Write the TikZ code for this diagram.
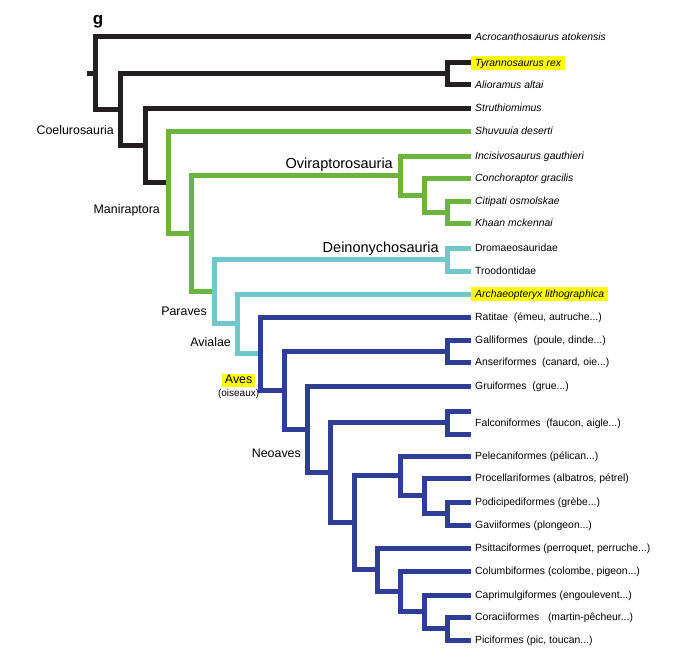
\documentclass[tikz,border=0pt]{standalone}
\usepackage{fontspec}
\setmainfont{Liberation Sans}
\usepackage{tikz}
\usetikzlibrary{positioning}

\definecolor{theropod}{RGB}{35,31,32}
\definecolor{maniraptor}{RGB}{108,179,63}
\definecolor{paravian}{RGB}{114,199,202}
\definecolor{avian}{RGB}{46,61,149}
\definecolor{marker}{RGB}{255,255,0}

\tikzstyle{branch} = [line width=5pt, line join=miter]
\tikzstyle{taxon} = [anchor=west, inner xsep=4pt, inner ysep=2.5pt, text height=8pt, text depth=1pt, font=\fontsize{10.4}{12}\selectfont]
\tikzstyle{species} = [taxon, font=\fontsize{10.4}{12}\selectfont\itshape]
\tikzstyle{clade} = [inner sep=0pt, text height=9pt, text depth=2.5pt, font=\fontsize{12.4}{14}\selectfont]
\tikzstyle{bigclade} = [inner sep=0pt, text height=10.5pt, text depth=3pt, font=\fontsize{14.5}{17}\selectfont]
\tikzstyle{highlight} = [fill=marker]

\begin{document}
\begin{tikzpicture}[x=1pt, y=-1pt, node distance=5pt]
    \useasboundingbox (0,0) rectangle (700,650);
    % terminal taxa
    \node (Acro) [species] at (471,37) {Acrocanthosaurus atokensis};
    \node (Tyran) [species, highlight] at (471,63) {Tyrannosaurus rex};
    \node (Alior) [species] at (471,85) {Alioramus altai};
    \node (Struth) [species] at (471,108) {Struthiomimus};
    \node (Shuv) [species] at (471,131) {Shuvuuia deserti};
    \node (Incis) [species] at (471,156) {Incisivosaurus gauthieri};
    \node (Conch) [species] at (471,178) {Conchoraptor gracilis};
    \node (Citip) [species] at (471,201) {Citipati osmolskae};
    \node (Khaan) [species] at (471,223) {Khaan mckennai};
    \node (Dromae) [taxon] at (471,248) {Dromaeosauridae};
    \node (Troodo) [taxon] at (471,271) {Troodontidae};
    \node (Archae) [species, highlight] at (471,294) {Archaeopteryx lithographica};
    \node (Ratit) [taxon] at (471,317) {Ratitae\ \ (émeu, autruche...)};
    \node (Galli) [taxon] at (471,340) {Galliformes\ \ (poule, dinde...)};
    \node (Anser) [taxon] at (471,362) {Anseriformes\ \ (canard, oie...)};
    \node (Grui) [taxon] at (471,386) {Gruiformes\ \ (grue...)};
    \node (Falco) [taxon] at (471,422.5) {Falconiformes\ \ (faucon, aigle...)};
    \coordinate (FalcA) at (471,411);
    \coordinate (FalcB) at (471,434);
    \node (Pelec) [taxon] at (471,456) {Pelecaniformes (pélican...)};
    \node (Procel) [taxon] at (471,478) {Procellariformes\ (albatros, pétrel)};
    \node (Podic) [taxon] at (471,502) {Podicipediformes (grèbe...)};
    \node (Gavi) [taxon] at (471,525) {Gaviiformes (plongeon...)};
    \node (Psitt) [taxon] at (471,548) {Psittaciformes\ (perroquet, perruche...)};
    \node (Columb) [taxon] at (471,571) {Columbiformes (colombe, pigeon...)};
    \node (Caprim) [taxon] at (471,595) {Caprimulgiformes (engoulevent...)};
    \node (Coraci) [taxon] at (471,617) {Coraciiformes\ \ \ (martin-pêcheur...)};
    \node (Pici) [taxon] at (471,640) {Piciformes (pic, toucan...)};
    % internal nodes
    \coordinate (Base) at (87,73.3);
    \coordinate (Root) at (95,73.3);
    \coordinate (Coeluro) at (120,109.6);
    \coordinate (Tyranno) at (447,74);
    \coordinate (Manicore) at (145,145.2);
    \coordinate (Mani) at (168,182.3);
    \coordinate (Pennar) at (191,233.6);
    \coordinate (Ovi) at (400,175.5);
    \coordinate (OviTwo) at (424,195);
    \coordinate (OviThree) at (447,212);
    \coordinate (Paraves) at (214,291.6);
    \coordinate (Deino) at (447,259.5);
    \coordinate (Avialae) at (237,323.8);
    \coordinate (Aves) at (260,353.6);
    \coordinate (Neognath) at (284,390.2);
    \coordinate (Galloans) at (447,351);
    \coordinate (Neoaves) at (307,429.3);
    \coordinate (NeoA) at (330,472.6);
    \coordinate (Falcfork) at (447,422.5);
    \coordinate (NeoB) at (354,522.8);
    \coordinate (Waterbird) at (400,475.9);
    \coordinate (WaterTwo) at (424,495.75);
    \coordinate (Grebes) at (447,513.5);
    \coordinate (Landbird) at (377,569.7);
    \coordinate (LandTwo) at (400,591.4);
    \coordinate (LandThree) at (424,611.75);
    \coordinate (Coracfork) at (447,628.5);
    % branches
    \draw [branch, theropod] (Base) -- (Root);
    \draw [branch, theropod] (Root) |- (Acro.west) (Root) |- (Coeluro);
    \draw [branch, theropod] (Coeluro) |- (Tyranno) (Coeluro) |- (Manicore);
    \draw [branch, theropod] (Tyranno) |- (Tyran.west) (Tyranno) |- (Alior.west);
    \draw [branch, theropod] (Manicore) |- (Struth.west) (Manicore) |- (Mani);
    \draw [branch, maniraptor] (Mani) |- (Shuv.west) (Mani) |- (Pennar);
    \draw [branch, maniraptor] (Pennar) |- (Ovi) (Pennar) |- (Paraves);
    \draw [branch, maniraptor] (Ovi) |- (Incis.west) (Ovi) |- (OviTwo);
    \draw [branch, maniraptor] (OviTwo) |- (Conch.west) (OviTwo) |- (OviThree);
    \draw [branch, maniraptor] (OviThree) |- (Citip.west) (OviThree) |- (Khaan.west);
    \draw [branch, paravian] (Paraves) |- (Deino) (Paraves) |- (Avialae);
    \draw [branch, paravian] (Deino) |- (Dromae.west) (Deino) |- (Troodo.west);
    \draw [branch, paravian] (Avialae) |- (Archae.west) (Avialae) |- (Aves);
    \draw [branch, avian] (Aves) |- (Ratit.west) (Aves) |- (Neognath);
    \draw [branch, avian] (Neognath) |- (Galloans) (Neognath) |- (Neoaves);
    \draw [branch, avian] (Galloans) |- (Galli.west) (Galloans) |- (Anser.west);
    \draw [branch, avian] (Neoaves) |- (Grui.west) (Neoaves) |- (NeoA);
    \draw [branch, avian] (NeoA) |- (Falcfork) (NeoA) |- (NeoB);
    \draw [branch, avian] (Falcfork) |- (FalcA) (Falcfork) |- (FalcB);
    \draw [branch, avian] (NeoB) |- (Waterbird) (NeoB) |- (Landbird);
    \draw [branch, avian] (Waterbird) |- (Pelec.west) (Waterbird) |- (WaterTwo);
    \draw [branch, avian] (WaterTwo) |- (Procel.west) (WaterTwo) |- (Grebes);
    \draw [branch, avian] (Grebes) |- (Podic.west) (Grebes) |- (Gavi.west);
    \draw [branch, avian] (Landbird) |- (Psitt.west) (Landbird) |- (LandTwo);
    \draw [branch, avian] (LandTwo) |- (Columb.west) (LandTwo) |- (LandThree);
    \draw [branch, avian] (LandThree) |- (Caprim.west) (LandThree) |- (Coracfork);
    \draw [branch, avian] (Coracfork) |- (Coraci.west) (Coracfork) |- (Pici.west);
    % clade names
    \node (PanelLbl) [inner sep=0pt, font=\fontsize{17}{19}\selectfont\bfseries] at (98,22) {g};
    \node (CoeluroLbl) [clade, below left=16pt and 6pt of Coeluro] {Coelurosauria};
    \node (ManiLbl) [clade, below left=22.2pt and 8pt of Mani] {Maniraptora};
    \node (OviLbl) [bigclade, above left=3.5pt and 7pt of Ovi] {Oviraptorosauria};
    \node (DeinoLbl) [bigclade, above left=3.5pt and 8pt of Deino] {Deinonychosauria};
    \node (ParavesLbl) [clade, below left=15pt and 7pt of Paraves] {Paraves};
    \node (AvialaeLbl) [clade, below left=13.7pt and 6pt of Avialae] {Avialae};
    \node (AvesLbl) [clade, highlight, inner xsep=2.5pt, inner ysep=0.75pt, below left=20.4pt and 5pt of Aves] {Aves};
    \node (OiseauxLbl) [inner sep=0pt, font=\fontsize{10}{12}\selectfont, below=2pt of AvesLbl] {(oiseaux)};
    \node (NeoavesLbl) [clade, below left=19.2pt and 6pt of Neoaves] {Neoaves};
\end{tikzpicture}
\end{document}
